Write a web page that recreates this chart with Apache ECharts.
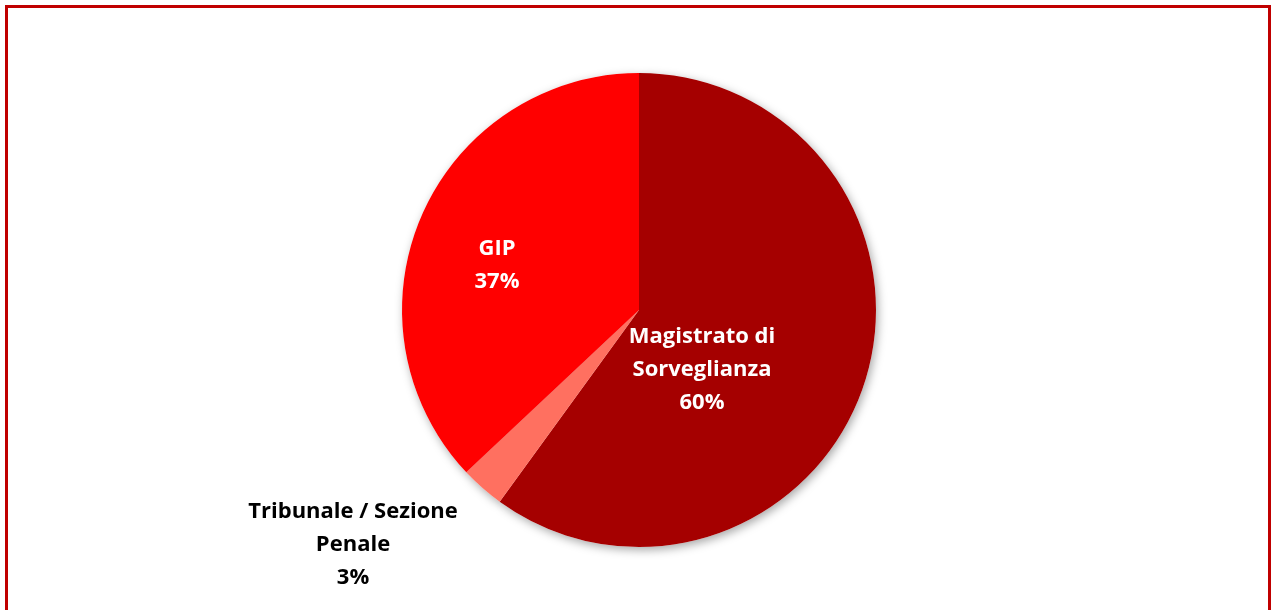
<!DOCTYPE html>
<html>
<head>
<meta charset="utf-8">
<script src="https://cdn.jsdelivr.net/npm/echarts@6/dist/echarts.min.js"></script>
<style>
  html, body { margin: 0; padding: 0; background: #fff; overflow: hidden; }
  #frame {
    position: absolute; left: 5px; top: 5px; width: 1260px; height: 620px;
    border: 3px solid #C00000; box-sizing: content-box;
  }
  #chart { position: absolute; left: 0; top: 0; width: 1271px; height: 610px; }
</style>
</head>
<body>
<div id="frame"></div>
<div id="chart"></div>
<script>
// dati del grafico
const categories = ['Magistrato di\nSorveglianza', 'Tribunale / Sezione\nPenale', 'GIP'];
const values = [60, 3, 37];
const colors = ['#A50000', '#FF7060', '#FF0000'];

// posizione etichette (centro del testo)
const labelPos = [[702, 370], [353, 545], [497, 265]];
const labelColor = ['#ffffff', '#000000', '#ffffff'];

const chart = echarts.init(document.getElementById('chart'));

const pieBase = {
    type: 'pie',
    center: [639, 310],
    radius: [0, 237],
    startAngle: 90,
    clockwise: true,
    emphasis: { disabled: true },
    labelLine: { show: false }
};

chart.setOption({
    animation: false,
    series: [
        // solo ombra esterna, sotto le fette
        Object.assign({}, pieBase, {
            silent: true,
            z: 1,
            data: categories.map((name, i) => ({ name: name, value: values[i] })),
            itemStyle: {
                color: '#ffffff',
                borderWidth: 0,
                shadowBlur: 10,
                shadowColor: 'rgba(0,0,0,0.35)',
                shadowOffsetX: 2,
                shadowOffsetY: 3
            },
            label: { show: false }
        }),
        Object.assign({}, pieBase, {
            z: 2,
            data: categories.map((name, i) => ({
                name: name,
                value: values[i],
                itemStyle: { color: colors[i] },
                label: { color: labelColor[i] }
            })),
            itemStyle: { borderWidth: 0 },
            label: {
                show: true,
                position: 'inside',
                formatter: p => p.name + '\n' + p.value + '%',
                fontFamily: 'Open Sans',
                fontWeight: 'bold',
                fontSize: 22,
                lineHeight: 33,
                align: 'center'
            },
            labelLayout: function (params) {
                const pos = labelPos[params.dataIndex];
                return { x: pos[0], y: pos[1], align: 'center', verticalAlign: 'middle' };
            }
        })
    ]
});
</script>
</body>
</html>
